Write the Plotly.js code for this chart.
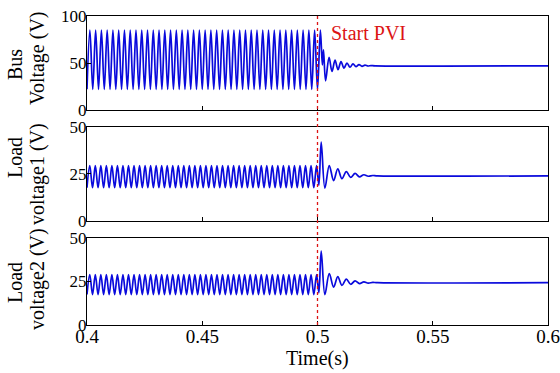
<!DOCTYPE html>
<html>
<head>
<meta charset="utf-8">
<script src="https://cdn.plot.ly/plotly-3.0.1.min.js"></script>
<style>html,body{margin:0;padding:0;background:#fff;}#chart{width:560px;height:373px;}</style>
</head>
<body>
<div id="chart"></div>
<script>
// Times of the oscillation extrema, in ms
var tBusMs = [400.00,401.25,402.50,403.75,405.00,406.25,407.50,408.75,410.00,411.25,412.50,413.75,415.00,416.25,417.50,418.75,420.00,421.25,422.50,423.75,425.00,426.25,427.50,428.75,430.00,431.25,432.50,433.75,435.00,436.25,437.50,438.75,440.00,441.25,442.50,443.75,445.00,446.25,447.50,448.75,450.00,451.25,452.50,453.75,455.00,456.25,457.50,458.75,460.00,461.25,462.50,463.75,465.00,466.25,467.50,468.75,470.00,471.25,472.50,473.75,475.00,476.25,477.50,478.75,480.00,481.25,482.50,483.75,485.00,486.25,487.50,488.75,490.00,491.25,492.50,493.75,495.00,496.25,497.50,498.75,500.00,
  501.25,502.1,502.6,503.5,505.0,506.3,507.6,508.9,510.2,511.5,512.8,514.1,515.4,516.7,518.0,519.3,520.6,521.9,523.2,525.0,600.0];
var busV = [22,85,22,85,22,85,22,85,22,85,22,85,22,85,22,85,22,85,22,85,22,85,22,85,22,85,22,85,22,85,22,85,22,85,22,85,22,85,22,85,22,85,22,85,22,85,22,85,22,85,22,85,22,85,22,85,22,85,22,85,22,85,22,85,22,85,22,85,22,85,22,85,22,85,22,85,22,85,22,85,22,
  85,48,64,31,56,41,53,43,51.5,44.5,50,45.5,49,46,48.3,46.5,47.8,46.8,47.3,47,47];

var tLoadMs = [400.0,401.2,402.4,403.6,404.8,406.0,407.2,408.4,409.6,410.8,412.0,413.2,414.4,415.6,416.8,418.0,419.2,420.4,421.6,422.8,424.0,425.2,426.4,427.6,428.8,430.0,431.2,432.4,433.6,434.8,436.0,437.2,438.4,439.6,440.8,442.0,443.2,444.4,445.6,446.8,448.0,449.2,450.4,451.6,452.8,454.0,455.2,456.4,457.6,458.8,460.0,461.2,462.4,463.6,464.8,466.0,467.2,468.4,469.6,470.8,472.0,473.2,474.4,475.6,476.8,478.0,479.2,480.4,481.6,482.8,484.0,485.2,486.4,487.6,488.8,490.0,491.2,492.4,493.6,494.8,496.0,497.2,498.4,499.6,
  500.6,501.6,503.2,505.1,507.0,508.8,510.6,512.5,514.4,516.3,518.2,520.1,522.0,524.0,526.0,600.0];
var load1V = [17.7,29.4,17.7,29.4,17.7,29.4,17.7,29.4,17.7,29.4,17.7,29.4,17.7,29.4,17.7,29.4,17.7,29.4,17.7,29.4,17.7,29.4,17.7,29.4,17.7,29.4,17.7,29.4,17.7,29.4,17.7,29.4,17.7,29.4,17.7,29.4,17.7,29.4,17.7,29.4,17.7,29.4,17.7,29.4,17.7,29.4,17.7,29.4,17.7,29.4,17.7,29.4,17.7,29.4,17.7,29.4,17.7,29.4,17.7,29.4,17.7,29.4,17.7,29.4,17.7,29.4,17.7,29.4,17.7,29.4,17.7,29.4,17.7,29.4,17.7,29.4,17.7,29.4,17.7,29.4,17.7,29.4,17.7,29.4,
  19,42,17.5,29.5,21.5,27.8,22.5,26.3,23.2,25.3,23.5,24.6,23.8,24.2,24,24];
var load2V = [17.5,29,17.5,29,17.5,29,17.5,29,17.5,29,17.5,29,17.5,29,17.5,29,17.5,29,17.5,29,17.5,29,17.5,29,17.5,29,17.5,29,17.5,29,17.5,29,17.5,29,17.5,29,17.5,29,17.5,29,17.5,29,17.5,29,17.5,29,17.5,29,17.5,29,17.5,29,17.5,29,17.5,29,17.5,29,17.5,29,17.5,29,17.5,29,17.5,29,17.5,29,17.5,29,17.5,29,17.5,29,17.5,29,17.5,29,17.5,29,17.5,29,17.5,29,
  18.5,42.5,17.5,29.5,21.8,27.8,22.8,26.4,23.4,25.4,23.8,24.8,24.1,24.5,24.3,24.3];

var xTicks = [0.4,0.45,0.5,0.55,0.6];
var xTickText = ['0.4','0.45','0.5','0.55','0.6'];
var busTicks = [0,50,100];
var loadTicks = [0,25,50];
var eventTime = 0.5;

var tBus = tBusMs.map(function(v){return v/1000;});
var tLoad = tLoadMs.map(function(v){return v/1000;});

var FONT = '"Liberation Serif", "Times New Roman", serif';
var lineStyle = {color:'rgb(10,10,220)', width:1.7, shape:'spline', smoothing:1};

var traces = [
  {x:tBus, y:busV, xaxis:'x', yaxis:'y', mode:'lines', line:lineStyle, hoverinfo:'skip'},
  {x:tLoad, y:load1V, xaxis:'x2', yaxis:'y2', mode:'lines', line:lineStyle, hoverinfo:'skip'},
  {x:tLoad, y:load2V, xaxis:'x3', yaxis:'y3', mode:'lines', line:lineStyle, hoverinfo:'skip'}
];

function xa(anchor, labels){
  return {anchor:anchor, domain:[0,1], range:[0.4,0.6], tickvals:xTicks, ticktext:xTickText,
    showticklabels:labels, ticks:'inside', ticklen:4, tickcolor:'#000', tickwidth:1,
    showline:true, mirror:true, linecolor:'#000', linewidth:1, showgrid:false, zeroline:false,
    ticklabelstandoff:-6,
    tickfont:{family:FONT, size:19, color:'#000'}};
}
function ya(anchor, dom, rng, tv){
  return {anchor:anchor, domain:dom, range:rng, tickvals:tv, ticks:'inside', ticklen:4,
    tickcolor:'#000', tickwidth:1, showline:true, mirror:true, linecolor:'#000', linewidth:1,
    showgrid:false, zeroline:false, ticklabelstandoff:-4,
    tickfont:{family:FONT, size:17, color:'#000'}};
}

function yLab(text, x, y){
  return {text:text, xref:'paper', yref:'paper', x:x, y:y, xanchor:'center', yanchor:'middle',
    textangle:-90, showarrow:false, font:{family:FONT, size:20, color:'#000'}};
}

var layout = {
  width:560, height:373,
  margin:{l:87, r:12, t:16, b:48},
  paper_bgcolor:'#fff', plot_bgcolor:'#fff',
  showlegend:false,
  font:{family:FONT, color:'#000'},
  xaxis:xa('y', false),
  xaxis2:xa('y2', false),
  xaxis3:xa('y3', true),
  yaxis:ya('x', [0.6958,1], [0,100], busTicks),
  yaxis2:ya('x2', [0.3366,0.6408], [0,50], loadTicks),
  yaxis3:ya('x3', [0,0.2816], [0,50], loadTicks),
  shapes:[{type:'line', xref:'x', yref:'paper', x0:eventTime, x1:eventTime, y0:0, y1:1,
    line:{color:'rgb(220,20,20)', width:1.3, dash:'dot'}}],
  annotations:[
    {text:'Start PVI', xref:'x', yref:'paper', x:0.5052, y:0.945, xanchor:'left', yanchor:'middle',
      showarrow:false, font:{family:FONT, size:20, color:'rgb(220,20,20)'}},
    yLab('Bus', -0.1562, 0.8447),
    yLab('Voltage (V)', -0.1063, 0.8641),
    yLab('Load', -0.1562, 0.5437),
    yLab('voltage1 (V)', -0.1063, 0.4887),
    yLab('Load', -0.1562, 0.1392),
    yLab('voltage2 (V)', -0.1063, 0.1489),
    {text:'Time(s)', xref:'paper', yref:'paper', x:0.5, y:-0.1068, xanchor:'center', yanchor:'middle',
      showarrow:false, font:{family:FONT, size:20, color:'#000'}}
  ]
};

Plotly.newPlot('chart', traces, layout, {displayModeBar:false, staticPlot:true});
</script>
</body>
</html>
